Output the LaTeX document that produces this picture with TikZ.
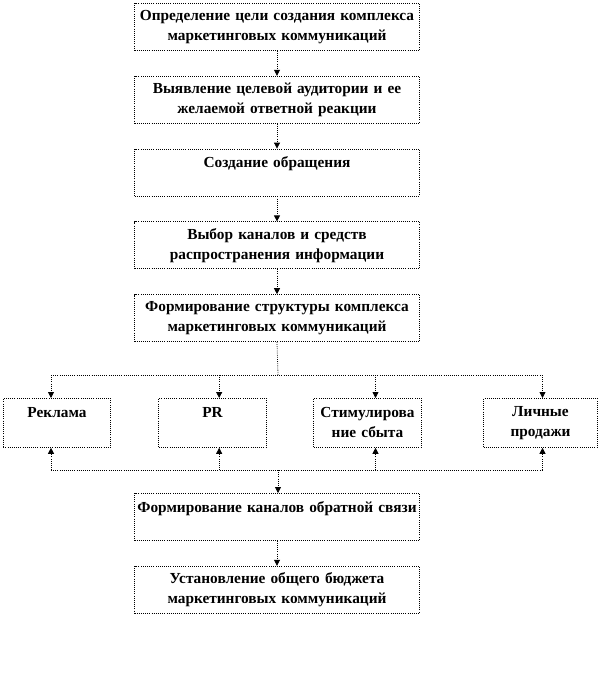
\documentclass[tikz,border=0pt]{standalone}
\usepackage{fontspec}
\setmainfont{Liberation Serif}
\usetikzlibrary{arrows.meta, positioning}

\begin{document}
\begin{tikzpicture}[
  x=0.75pt, y=-0.75pt,
  node distance=18.75pt,
  bigbox/.style={draw, densely dotted, line width=0.6pt, text width=212pt, minimum width=213.75pt, minimum height=35.25pt, inner sep=0.8pt, align=center, font=\bfseries\fontsize{11.5}{15}\selectfont},
  smallbox/.style={bigbox, text width=78pt, minimum width=80.5pt, minimum height=36.75pt, anchor=north},
  arr/.style={densely dotted, line width=0.6pt, -{Triangle[length=4.5pt, width=4.5pt]}},
  bus/.style={densely dotted, line width=0.6pt}
]
  \useasboundingbox (0,0) rectangle (606,689);
  % main column
  \node[bigbox, anchor=north] (goal) at (277,3) {Определение цели создания комплекса\\маркетинговых коммуникаций};
  \node[bigbox, below=of goal] (audience) {Выявление целевой аудитории и ее\\желаемой ответной реакции};
  \node[bigbox, below=of audience] (message) {Создание обращения\\\phantom{X}};
  \node[bigbox, below=of message] (channels) {Выбор каналов и средств\\распространения информации};
  \node[bigbox, below=of channels] (structure) {Формирование структуры комплекса\\маркетинговых коммуникаций};
  % tools
  \node[smallbox] (ads) at (57,398) {Реклама\\\phantom{X}};
  \node[smallbox] (pr) at (212.5,398) {PR\\\phantom{X}};
  \node[smallbox] (promo) at (367.5,398) {Стимулирова\\ние сбыта};
  \node[smallbox, minimum width=85.5pt] (sales) at (540.5,398) {Личные\\продажи};
  % feedback and budget
  \node[bigbox, anchor=north] (feedback) at (277,493) {Формирование каналов обратной связи\\\phantom{X}};
  \node[bigbox, below=of feedback] (budget) {Установление общего бюджета\\маркетинговых коммуникаций};
  \coordinate (topbus) at (278,375);
  \coordinate (botbus) at (278,470);
  \draw[arr] (goal) -- (audience);
  \draw[arr] (audience) -- (message);
  \draw[arr] (message) -- (channels);
  \draw[arr] (channels) -- (structure);
  \draw[bus] (structure.south) -- (topbus);
  \draw[bus] ([xshift=-4.5pt]ads.north |- topbus) -- ([xshift=1.5pt]sales.north |- topbus);
  \draw[bus] ([xshift=-4.5pt]ads.south |- botbus) -- ([xshift=1.5pt]sales.south |- botbus);
  \draw[arr] ([xshift=-4.5pt]ads.north |- topbus) -- ([xshift=-4.5pt]ads.north);
  \draw[arr] ([xshift=5pt]pr.north |- topbus) -- ([xshift=5pt]pr.north);
  \draw[arr] ([xshift=6pt]promo.north |- topbus) -- ([xshift=6pt]promo.north);
  \draw[arr] ([xshift=1.5pt]sales.north |- topbus) -- ([xshift=1.5pt]sales.north);
  \draw[arr] ([xshift=-4.5pt]ads.south |- botbus) -- ([xshift=-4.5pt]ads.south);
  \draw[arr] ([xshift=5pt]pr.south |- botbus) -- ([xshift=5pt]pr.south);
  \draw[arr] ([xshift=6pt]promo.south |- botbus) -- ([xshift=6pt]promo.south);
  \draw[arr] ([xshift=1.5pt]sales.south |- botbus) -- ([xshift=1.5pt]sales.south);
  \draw[arr] (botbus) -- (botbus |- feedback.north);
  \draw[arr] (feedback) -- (budget);
\end{tikzpicture}
\end{document}
